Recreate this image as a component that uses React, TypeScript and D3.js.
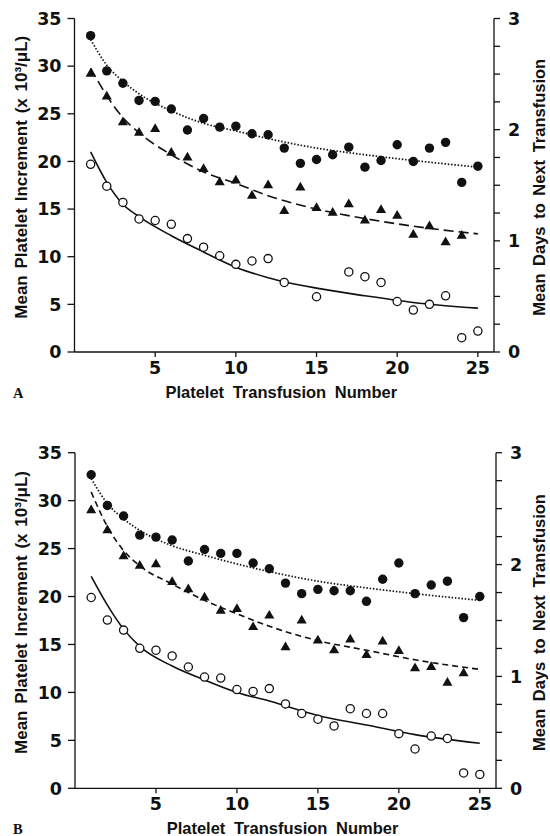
import * as d3 from 'd3';

// transfusion number on the x axis
const transfusionNumbers = [1, 2, 3, 4, 5, 6, 7, 8, 9, 10, 11, 12, 13, 14, 15, 16, 17, 18, 19, 20, 21, 22, 23, 24, 25];

// panel A points (left-axis units)
const aFilled = [33.2, 29.5, 28.2, 26.4, 26.3, 25.5, 23.3, 24.5, 23.6, 23.7, 22.9, 22.8, 21.4, 19.8, 20.2, 20.7, 21.5, 19.4, 20.1, 21.75, 20.0, 21.4, 22.0, 17.8, 19.5];
const aTriangle = [29.2, 26.8, 24.1, 23.0, 23.4, 20.9, 20.4, 19.2, 17.8, 18.0, 16.4, 17.5, 14.8, 17.25, 15.1, 14.6, 15.5, 13.8, 14.9, 14.3, 12.3, 13.2, 11.5, 12.2, null];
const aOpen = [19.7, 17.4, 15.7, 13.96, 13.8, 13.4, 11.9, 11.0, 10.1, 9.2, 9.55, 9.8, 7.3, null, 5.8, null, 8.4, 7.9, 7.3, 5.3, 4.4, 5.0, 5.9, 1.5, 2.2];

// panel B points
const bFilled = [32.7, 29.5, 28.4, 26.4, 26.2, 25.9, 23.7, 24.9, 24.5, 24.5, 23.5, 22.9, 21.4, 20.3, 20.75, 20.6, 20.6, 19.5, 21.8, 23.5, 20.3, 21.2, 21.6, 17.8, 20.0];
const bTriangle = [29.0, 26.9, 24.2, 23.2, 23.35, 21.5, 20.75, 19.9, 18.5, 18.7, 16.8, 18.0, 14.7, 17.5, 15.4, 14.4, 15.5, 13.9, 15.3, 14.3, 12.5, 12.65, 11.0, 12.0, null];
const bOpen = [19.9, 17.55, 16.5, 14.6, 14.4, 13.8, 12.65, 11.6, 11.5, 10.3, 10.1, 10.4, 8.8, 7.8, 7.2, 6.5, 8.3, 7.8, 7.8, 5.7, 4.1, 5.45, 5.2, 1.6, 1.45];

// fitted curves at these transfusion numbers
const curveX = [1, 2, 3, 4, 6, 8, 10, 12, 15, 18, 21, 25];
const aDottedFit = [32.8, 30.1, 28.4, 27.1, 25.3, 24.0, 23.2, 22.4, 21.4, 20.7, 20.1, 19.4];
const aDashedFit = [29.8, 26.9, 24.6, 23.0, 20.7, 18.9, 17.7, 16.4, 15.0, 14.0, 13.2, 12.4];
const aSolidFit = [21.0, 17.8, 15.5, 14.2, 12.2, 10.5, 8.9, 7.8, 6.7, 5.9, 5.2, 4.6];
const bDottedFit = [32.3, 29.7, 28.1, 26.9, 25.3, 24.3, 23.4, 22.6, 21.6, 20.9, 20.3, 19.6];
const bDashedFit = [30.9, 27.3, 24.8, 23.2, 21.3, 19.6, 18.2, 16.9, 15.4, 14.4, 13.4, 12.4];
const bSolidFit = [22.1, 19.1, 16.6, 14.8, 12.75, 11.3, 10.0, 9.1, 7.6, 6.6, 5.6, 4.7];

// axes
const leftTicks = [0, 5, 10, 15, 20, 25, 30, 35];
const bottomTicks = [5, 10, 15, 20, 25];
const rightTicks = [0, 0.25, 0.5, 0.75, 1, 1.25, 1.5, 1.75, 2, 2.25, 2.5, 2.75, 3];
const rightLabels = [0, 1, 2, 3];

const xLabel = 'Platelet Transfusion Number';
const yLabel = 'Mean Platelet Increment (x 10³/μL)';
const y2Label = 'Mean Days to Next Transfusion';

const tickFont = '"DejaVu Sans", sans-serif';
const labelFont = '"Liberation Sans", Arial, sans-serif';

type PanelProps = {
  letter: string;
  left: number;
  right: number;
  top: number;
  bottom: number;
  filled: (number | null)[];
  triangle: (number | null)[];
  open: (number | null)[];
  dotted: number[];
  dashed: number[];
  solid: number[];
  dash: string;
};

function Panel(p: PanelProps) {
  const x = d3.scaleLinear().domain([0, 26]).range([p.left, p.right]);
  const y = d3.scaleLinear().domain([0, 35]).range([p.bottom, p.top]);
  const y2 = d3.scaleLinear().domain([0, 3]).range([p.bottom, p.top]);

  const line = d3
    .line<[number, number]>()
    .x(d => x(d[0]))
    .y(d => y(d[1]))
    .curve(d3.curveMonotoneX);

  const fit = (vals: number[]) => line(curveX.map((c, i) => [c, vals[i]] as [number, number])) ?? '';
  const pts = (vals: (number | null)[]) =>
    transfusionNumbers
      .map((n, i) => [n, vals[i]] as [number, number | null])
      .filter(d => d[1] !== null) as [number, number][];

  const tri = d3.symbol(d3.symbolTriangle, 44)() ?? '';
  const midY = (p.top + p.bottom) / 2;

  return (
    <g>
      {/* fitted curves */}
      <path d={fit(p.dotted)} fill="none" stroke="#111" strokeWidth={1.7} strokeDasharray="1.5,1.8" />
      <path d={fit(p.dashed)} fill="none" stroke="#111" strokeWidth={1.6} strokeDasharray={p.dash} />
      <path d={fit(p.solid)} fill="none" stroke="#111" strokeWidth={1.6} />

      {/* markers */}
      {pts(p.filled).map(([n, v]) => (
        <circle key={`f${n}`} cx={x(n)} cy={y(v)} r={4.7} fill="#111" />
      ))}
      {pts(p.triangle).map(([n, v]) => (
        <path key={`t${n}`} d={tri} transform={`translate(${x(n)},${y(v)})`} fill="#111" />
      ))}
      {pts(p.open).map(([n, v]) => (
        <circle key={`o${n}`} cx={x(n)} cy={y(v)} r={4.1} fill="#fff" stroke="#111" strokeWidth={1.3} />
      ))}

      {/* left axis */}
      <line x1={p.left} x2={p.left} y1={y(35)} y2={y(0)} stroke="#111" strokeWidth={1.3} />
      {leftTicks.map(t => (
        <g key={`l${t}`}>
          <line x1={p.left - 7} x2={p.left} y1={y(t)} y2={y(t)} stroke="#111" strokeWidth={1.3} />
          <text x={p.left - 13} y={y(t) + 6.3} textAnchor="end" fontFamily={tickFont} fontWeight="bold" fontSize={17.5} fill="#111">
            {t}
          </text>
        </g>
      ))}

      {/* right axis */}
      <line x1={p.right} x2={p.right} y1={y2(3)} y2={y2(0)} stroke="#111" strokeWidth={1.3} />
      {rightTicks.map(t => (
        <line key={`r${t}`} x1={p.right} x2={p.right + 6} y1={y2(t)} y2={y2(t)} stroke="#111" strokeWidth={1.3} />
      ))}
      {rightLabels.map(t => (
        <text key={`rl${t}`} x={p.right + 14} y={y2(t) + 6.3} fontFamily={tickFont} fontWeight="bold" fontSize={17.5} fill="#111">
          {t}
        </text>
      ))}

      {/* bottom axis */}
      <line x1={p.left} x2={p.right} y1={p.bottom} y2={p.bottom} stroke="#111" strokeWidth={1.3} />
      {bottomTicks.map(t => (
        <g key={`b${t}`}>
          <line x1={x(t)} x2={x(t)} y1={p.bottom} y2={p.bottom + 5} stroke="#111" strokeWidth={1.3} />
          <text x={x(t)} y={p.bottom + 22} textAnchor="middle" fontFamily={tickFont} fontWeight="bold" fontSize={17.5} fill="#111">
            {t}
          </text>
        </g>
      ))}

      {/* titles */}
      <text x={(p.left + p.right) / 2 - 3} y={p.bottom + 46} textAnchor="middle" fontFamily={labelFont} fontWeight="bold" fontSize={16.5} wordSpacing={4} fill="#111">
        {xLabel}
      </text>
      <text transform={`translate(27,${midY - 8}) rotate(-90)`} textAnchor="middle" fontFamily={labelFont} fontWeight="bold" fontSize={17} wordSpacing={2} fill="#111">
        {yLabel}
      </text>
      <text transform={`translate(545,${midY + 2}) rotate(-90)`} textAnchor="middle" fontFamily={labelFont} fontWeight="bold" fontSize={16.5} wordSpacing={3} fill="#111">
        {y2Label}
      </text>
      <text x={13} y={p.bottom + 46} fontFamily='"Liberation Serif", "Times New Roman", serif' fontWeight="bold" fontSize={14.5} fill="#111">
        {p.letter}
      </text>
    </g>
  );
}

export default function App() {
  return (
    <svg
      width={550}
      height={836}
      viewBox="0 0 550 836"
      style={{ position: 'absolute', left: 0, top: 0, background: '#fff' }}
    >
      <rect width={550} height={836} fill="#fff" />
      <Panel
        letter="A"
        left={74.5}
        right={494}
        top={18.5}
        bottom={352}
        filled={aFilled}
        triangle={aTriangle}
        open={aOpen}
        dotted={aDottedFit}
        dashed={aDashedFit}
        solid={aSolidFit}
        dash="10,5"
      />
      <Panel
        letter="B"
        left={75}
        right={496}
        top={452.7}
        bottom={788.3}
        filled={bFilled}
        triangle={bTriangle}
        open={bOpen}
        dotted={bDottedFit}
        dashed={bDashedFit}
        solid={bSolidFit}
        dash="6,4"
      />
    </svg>
  );
}
